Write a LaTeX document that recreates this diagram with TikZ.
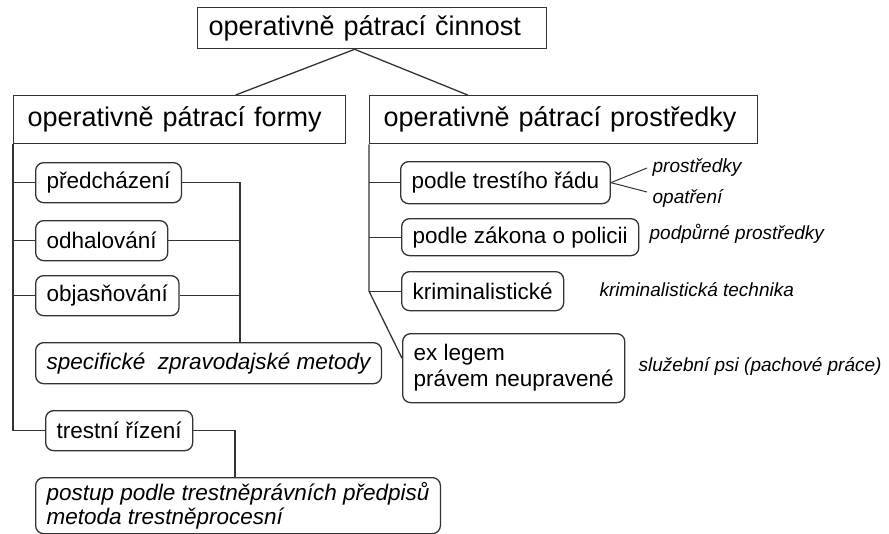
\documentclass[tikz,border=0pt]{standalone}
\usepackage{fontspec}
\setmainfont{Liberation Sans}
\usetikzlibrary{calc}

\begin{document}
\begin{tikzpicture}[x=1pt, y=-1pt, line width=1.3pt,
  every node/.style = {anchor=north west},
  headbox/.style = {draw=black!80, rectangle, inner xsep=14pt, align=left,
    minimum height=48pt, font=\fontsize{27}{32}\selectfont},
  itembox/.style = {draw=black!80, rectangle, rounded corners=8pt,
    inner xsep=11pt, align=left, minimum height=40pt,
    font=\fontsize{22.5}{26}\selectfont},
  sidenote/.style = {anchor=west, inner sep=0pt,
    font=\fontsize{19}{22}\selectfont\itshape},
  link/.style = {draw=black!80, line width=1.3pt}]
  \useasboundingbox (0,0) rectangle (889,533);

  % top
  \node[headbox, inner xsep=11pt, minimum height=41pt, text width=327pt] (top) at (197,7) {operativně pátrací činnost};
  \node[headbox, text width=304pt] (formy) at (13,95) {operativně pátrací formy};
  \node[headbox, text width=360pt] (prost) at (369,95) {operativně pátrací prostředky};

  % formy
  \node[itembox] (pred) at (35,162) {předcházení};
  \node[itembox] (odhal) at (35,220) {odhalování};
  \node[itembox] (objas) at (35,275) {objasňování};
  \node[itembox, minimum height=41pt, font=\fontsize{22.5}{26}\selectfont\itshape] (spec) at (35,342) {specifické\ \ zpravodajské metody};
  \node[itembox] (trest) at (45,410) {trestní řízení};
  \node[itembox, minimum height=56pt, font=\fontsize{22.5}{24}\selectfont\itshape] (postup) at (35,477) {postup podle trestněprávních předpisů\\metoda trestněprocesní};

  % prostredky
  \node[itembox, minimum height=42pt] (podtr) at (400,161) {podle trestího řádu};
  \node[itembox, minimum height=37pt] (podzak) at (401,218) {podle zákona o policii};
  \node[itembox, minimum height=39pt] (krim) at (401,271) {kriminalistické};
  \node[itembox, minimum height=69pt] (exleg) at (402,333) {ex legem\\právem neupravené};

  \node[sidenote] (prostr) at (652,168) {prostředky};
  \node[sidenote] (opatr) at (652,198) {opatření};
  \node[sidenote] (podp) at (649,234) {podpůrné prostředky};
  \node[sidenote] (krimt) at (599,290) {kriminalistická technika};
  \node[sidenote] (psi) at (638,366) {služební psi (pachové práce)};

  \coordinate (szx) at (240,0);
  \coordinate (trx) at (235,0);

  % connectors
  \draw[link] ([xshift=-17.5pt]top.south) -- ([xshift=56pt]formy.north);
  \draw[link] ([xshift=-17.5pt]top.south) -- ([xshift=-96pt]prost.north);

  \draw[link] (formy.south west) |- (trest.west);
  \foreach \n in {pred,odhal,objas}
    \draw[link] (formy.south west |- \n.west) -- (\n.west);
  \draw[link] (pred.east) -| (spec.north -| szx);
  \draw[link] (odhal.east) -- (odhal.east -| szx);
  \draw[link] (objas.east) -- (objas.east -| szx);
  \draw[link] (trest.east) -| (postup.north -| trx);

  \draw[link] (prost.south west) -- (prost.south west |- krim.west) -- ([yshift=10pt]exleg.west);
  \foreach \n in {podtr,podzak,krim}
    \draw[link] (prost.south west |- \n.west) -- (\n.west);
  \draw[link, line width=1pt] (podtr.east) -- ([xshift=-5pt]prostr.west);
  \draw[link, line width=1pt] (podtr.east) -- ([xshift=-5pt,yshift=6pt]opatr.west);
\end{tikzpicture}
\end{document}
